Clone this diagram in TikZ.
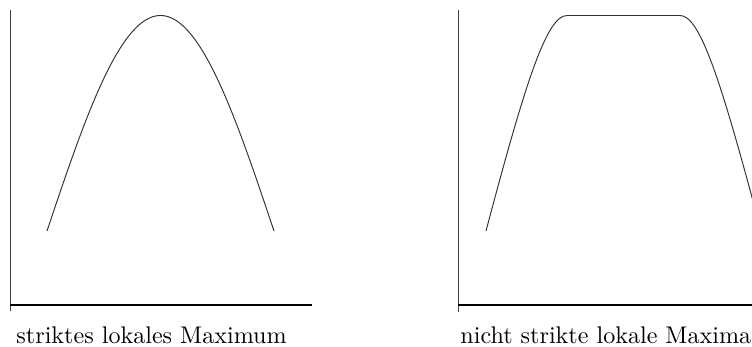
\documentclass[tikz,border=0pt]{standalone}
\begin{document}
\begin{tikzpicture}[x=0.415pt,y=-0.415pt,
  vaxis/.style={line width=0.4pt,black!75},
  haxis/.style={line width=0.75pt,black},
  curve/.style={line width=0.4pt,black!80},
  caption/.style={anchor=base west,inner sep=0pt,font=\fontsize{10pt}{12pt}\selectfont}]
\useasboundingbox (0,0) rectangle (752,347);
\clip (0,0) rectangle (752,347);
% left diagram
\coordinate (l0) at (10,10);
\coordinate (l1) at (10,311);
\coordinate (lh0) at (10,305);
\coordinate (lh1) at (312,305);
\draw[vaxis] (l0) -- (l1);
\draw[haxis] (lh0) -- (lh1);
\draw[curve] plot[domain=47:274,samples=120,smooth] (\x,{231-215.5*cos(90*(\x-160.5)/113.5)});
\node[caption] (capL) at (16,344) {striktes lokales Maximum};
% right diagram
\coordinate (r0) at (458,10);
\coordinate (r1) at (458,312);
\coordinate (rh0) at (458,305);
\coordinate (rh1) at (760,305);
\draw[vaxis] (r0) -- (r1);
\draw[haxis] (rh0) -- (rh1);
\coordinate (a0) at (486,231);
\coordinate (a1) at (567,15.5);
\coordinate (a2) at (680,15.5);
\coordinate (a3) at (761,231);
\draw[curve] (a0) .. controls (526,80) and (547,15.5) .. (a1) -- (a2)
  .. controls (700,15.5) and (721,80) .. (a3);
\node[caption] (capR) at (460,344) {nicht strikte lokale Maxima};
\end{tikzpicture}
\end{document}
